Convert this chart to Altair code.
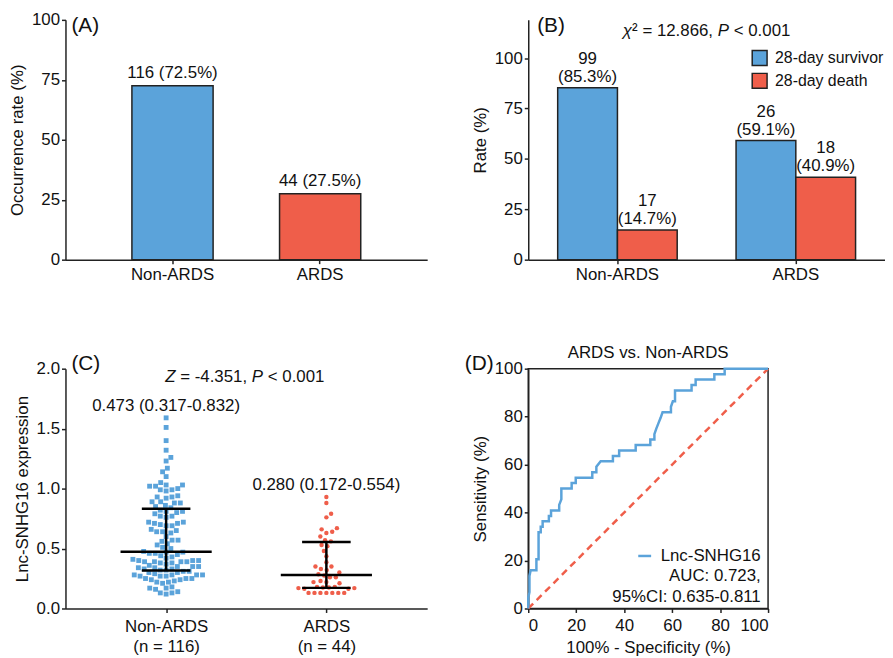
import json
import altair as alt
import numpy as np
import pandas as pd

# ---------------- data ----------------
groups = ["Non-ARDS", "ARDS"]

# (A) occurrence
occ_counts = [116, 44]
occ_rates = [72.5, 27.5]

# (B) 28-day outcome
outcomes = ["28-day survivor", "28-day death"]
surv_counts = [99, 26]
surv_rates = [85.3, 59.1]
death_counts = [17, 18]
death_rates = [14.7, 40.9]
chi_sq = 12.866
chi_p = "< 0.001"

# (C) expression
nonards_expr = [
    0.12, 0.13, 0.13, 0.14, 0.16, 0.17, 0.17, 0.18, 0.21, 0.22, 0.22, 0.23,
    0.24, 0.24, 0.25, 0.25, 0.25, 0.27, 0.27, 0.27, 0.28, 0.28, 0.28, 0.28,
    0.29, 0.30, 0.30, 0.31, 0.31,
    0.32, 0.32, 0.33, 0.33, 0.34, 0.34, 0.35, 0.35, 0.35, 0.36, 0.37, 0.38,
    0.38, 0.39, 0.39, 0.39, 0.39, 0.40, 0.40, 0.40, 0.41, 0.42, 0.43, 0.44,
    0.45, 0.46, 0.46, 0.47, 0.47,
    0.476, 0.50, 0.51, 0.53, 0.54, 0.56, 0.57, 0.57, 0.60, 0.63, 0.64, 0.64,
    0.65, 0.66, 0.69, 0.69, 0.70, 0.71, 0.71, 0.72, 0.72, 0.76, 0.77, 0.77,
    0.79, 0.80, 0.81, 0.81, 0.82,
    0.84, 0.85, 0.86, 0.88, 0.88, 0.89, 0.89, 0.92, 0.93, 0.93, 0.94, 0.98,
    0.99, 0.99, 1.00, 1.02, 1.02, 1.03, 1.03, 1.05, 1.10, 1.14, 1.17, 1.23,
    1.26, 1.32, 1.40, 1.51, 1.59,
]
ards_expr = [
    0.13, 0.13, 0.13, 0.13, 0.13, 0.13, 0.13, 0.165, 0.165, 0.17, 0.17,
    0.175, 0.175, 0.18, 0.18, 0.21, 0.22, 0.22, 0.23, 0.26, 0.26, 0.275,
    0.285, 0.30, 0.32, 0.33, 0.35, 0.35, 0.385, 0.435, 0.48, 0.52, 0.53,
    0.56, 0.57, 0.60, 0.63, 0.64, 0.66, 0.67, 0.76, 0.79, 0.88, 0.93,
]
medians = [0.473, 0.280]
q1s = [0.317, 0.172]
q3s = [0.832, 0.554]
n_labels = ["(n = 116)", "(n = 44)"]
z_value = -4.351
z_p = "< 0.001"

# (D) ROC curve (100% - specificity, sensitivity)
roc_title = "ARDS vs. Non-ARDS"
roc_fpr = [0, 0, 0.5, 0.5, 1.0, 3.4, 3.4, 4.3, 4.3, 5.2, 5.2, 6.0, 6.0, 8.6,
           8.6, 9.5, 9.5, 12.9, 12.9, 13.8, 13.8, 18.1, 18.1, 19.8, 19.8,
           26.7, 26.7, 28.4, 28.4, 30.2, 35.3, 35.3, 37.9, 37.9, 44.8, 44.8,
           50.9, 50.9, 52.6, 52.6, 53.4, 54.3, 55.2, 56.0, 59.5, 59.5, 60.3,
           61.2, 61.2, 68.1, 68.1, 69.8, 69.8, 77.6, 77.6, 81.9, 81.9, 100]
roc_sens = [0, 4.5, 6.8, 13.6, 15.9, 15.9, 20.5, 20.5, 31.8, 31.8, 34.1,
            34.1, 36.4, 36.4, 38.6, 38.6, 40.9, 40.9, 43.2, 45.5, 50.0, 50.0,
            52.3, 52.3, 54.5, 54.5, 56.8, 56.8, 59.1, 61.4, 61.4, 63.6, 63.6,
            65.9, 65.9, 68.2, 68.2, 70.5, 70.5, 72.7, 75.0, 77.3, 79.5, 81.8,
            81.8, 84.1, 86.4, 86.4, 90.9, 90.9, 93.2, 93.2, 95.5, 95.5, 97.7,
            97.7, 100, 100]
roc_name = "Lnc-SNHG16"
auc = 0.723
auc_ci = (0.635, 0.811)

# ---------------- style ----------------
FONT = "Liberation Sans"
BLUE = "#5BA3DA"
RED = "#EF5E4A"
EDGE = "#222222"
INK = "#111111"
LBL = 17
TICK = 17
TAG = 21

WA = {**{d: 0.556 for d in "0123456789"}, ".": 0.278, ",": 0.278, " ": 0.278,
      "=": 0.584, "<": 0.584, "-": 0.333, "P": 0.667, "Z": 0.611,
      "\u03c7": 0.55, "\u00b2": 0.333}


def text_w(s, size):
    return sum(WA.get(c, 0.556) for c in s) * size


def note(label, x, y, size, align="left"):
    return alt.Chart(pd.DataFrame({"t": [label]})).mark_text(
        align=align, baseline="middle", fontSize=size, font=FONT, color=INK
    ).encode(text="t:N", x=alt.value(x), y=alt.value(y))


def tag(label, x, y):
    return note(label, x, y, TAG)


def rich_text(segs, cx, cy, size):
    widths = [text_w(s, size) for s, _ in segs]
    x = cx - sum(widths) / 2
    layers = []
    for (s, it), w in zip(segs, widths):
        lead = len(s) - len(s.lstrip(" "))
        layers.append(
            alt.Chart(pd.DataFrame({"t": [s.strip(" ")]})).mark_text(
                align="left", baseline="middle", fontSize=size, font=FONT,
                color=INK, fontStyle="italic" if it else "normal"
            ).encode(text="t:N", x=alt.value(x + lead * WA[" "] * size),
                     y=alt.value(cy))
        )
        x += w
    return layers


# ---------------- panel A ----------------
WA_, HA_ = 365, 242
dfA = pd.DataFrame({"group": groups, "n": occ_counts, "rate": occ_rates})
dfA["label"] = [f"{n} ({r}%)" for n, r in zip(occ_counts, occ_rates)]
xA = alt.X("group:N", sort=groups,
           scale=alt.Scale(paddingInner=0.45, paddingOuter=0.45),
           axis=alt.Axis(title=None, labelAngle=0, labelPadding=3))
yA = alt.Y("rate:Q", scale=alt.Scale(domain=[0, 100], nice=False),
           axis=alt.Axis(title="Occurrence rate (%)", values=[0, 25, 50, 75, 100]))
barsA = alt.Chart(dfA).mark_bar(stroke=EDGE, strokeWidth=1.5).encode(
    x=xA, y=yA,
    color=alt.Color("group:N", scale=alt.Scale(domain=groups, range=[BLUE, RED]),
                    legend=None))
textA = alt.Chart(dfA).mark_text(baseline="alphabetic", dy=-8, fontSize=LBL,
                                 font=FONT, color=INK).encode(x=xA, y=yA, text="label:N")
A = alt.layer(barsA, textA, tag("(A)", 6, 6)).properties(width=WA_, height=HA_)

# ---------------- panel B ----------------
WB_ = 360
LH = 18
dfB = pd.DataFrame({
    "group": groups * 2,
    "outcome": [outcomes[0]] * 2 + [outcomes[1]] * 2,
    "n": surv_counts + death_counts,
    "rate": surv_rates + death_rates,
})
dfB["label"] = [f"{n}\n({r}%)" for n, r in zip(dfB["n"], dfB["rate"])]
xB = alt.X("group:N", sort=groups,
           scale=alt.Scale(paddingInner=0.33, paddingOuter=0.165),
           axis=alt.Axis(title=None, labelAngle=0, labelPadding=3))
xoB = alt.XOffset("outcome:N", sort=outcomes,
                  scale=alt.Scale(paddingInner=0, paddingOuter=0))
yB = alt.Y("rate:Q", scale=alt.Scale(domain=[0, 119], nice=False),
           axis=alt.Axis(title="Rate (%)", values=[0, 25, 50, 75, 100]))
barsB = alt.Chart(dfB).mark_bar(stroke=EDGE, strokeWidth=1.5).encode(
    x=xB, xOffset=xoB, y=yB,
    color=alt.Color("outcome:N", sort=outcomes,
                    scale=alt.Scale(domain=outcomes, range=[BLUE, RED]),
                    legend=alt.Legend(title=None, orient="none", legendX=225,
                                      legendY=30, symbolType="square",
                                      symbolSize=225, symbolStrokeColor=EDGE,
                                      symbolStrokeWidth=1.5, labelFontSize=16,
                                      labelFont=FONT, labelColor=INK,
                                      rowPadding=2, labelOffset=7, padding=0)))
textB = alt.Chart(dfB).mark_text(baseline="bottom", dy=-2 - LH, lineBreak="\n",
                                 lineHeight=LH, fontSize=LBL, font=FONT,
                                 color=INK).encode(x=xB, xOffset=xoB, y=yB,
                                                   text="label:N")
chi_segs = [("\u03c7", True), (f"\u00b2 = {chi_sq:.3f}, ", False), ("P", True),
            (f" {chi_p}", False)]
B = alt.layer(barsB, textB, tag("(B)", 9, 6),
              *rich_text(chi_segs, 180, 11, LBL)).properties(width=WB_, height=HA_)

# ---------------- panel C ----------------
XDOM = [-0.628, 1.629]
px_per_x = WA_ / (XDOM[1] - XDOM[0])
px_per_y = HA_ / 2.0


def beeswarm(vals, d=6.0):
    vals = np.asarray(vals, dtype=float)
    order = np.argsort(vals, kind="stable")
    placed = []
    offs = np.zeros(len(vals))
    flip = 1
    for i in order:
        y = vals[i] * px_per_y
        forb = []
        for yy, xx in placed:
            dy = abs(y - yy)
            if dy < d:
                h = np.sqrt(d * d - dy * dy)
                forb.append((xx - h, xx + h))
        cands = [0.0] + [a for a, b in forb] + [b for a, b in forb]
        cands.sort(key=lambda c: (round(abs(c), 6), flip * c))
        x = 0.0
        for c in cands:
            if all(not (a + 1e-6 < c < b - 1e-6) for a, b in forb):
                x = c
                break
        flip = -flip
        placed.append((y, x))
        offs[i] = x
    return offs


pts = []
for gi, vals in enumerate([nonards_expr, ards_expr]):
    offs = beeswarm(vals)
    for v, o in zip(vals, offs):
        pts.append({"gi": gi, "value": v, "xpos": gi + o / px_per_x})
dfC = pd.DataFrame(pts)
dfS = pd.DataFrame({"gi": [0, 1], "median": medians, "q1": q1s, "q3": q3s,
                    "top": [max(nonards_expr), max(ards_expr)]})
dfS["label"] = [f"{m:.3f} ({a:.3f}-{b:.3f})" for m, a, b in zip(medians, q1s, q3s)]
dfS["ly"] = dfS["top"] + 0.097

lab_arrays = [[g, n] for g, n in zip(groups, n_labels)]
labexpr = f"datum.value == 0 ? {json.dumps(lab_arrays[0])} : {json.dumps(lab_arrays[1])}"
xC_scale = alt.Scale(domain=XDOM, nice=False, zero=False)
xC_axis = alt.Axis(title=None, values=[0, 1], labelExpr=labexpr, labelLineHeight=20,
                   labelPadding=6)
yC_scale = alt.Scale(domain=[0, 2], nice=False)
yC_axis = alt.Axis(title="Lnc-SNHG16 expression", values=[0, 0.5, 1, 1.5, 2],
                   format=".1f")

ptsA = alt.Chart(dfC[dfC.gi == 0]).mark_point(shape="square", filled=True, size=24,
                                              color=BLUE, opacity=1).encode(
    x=alt.X("xpos:Q", scale=xC_scale, axis=xC_axis),
    y=alt.Y("value:Q", scale=yC_scale, axis=yC_axis))
ptsB = alt.Chart(dfC[dfC.gi == 1]).mark_circle(size=20, color=RED, opacity=1).encode(
    x="xpos:Q", y="value:Q")
med = alt.Chart(dfS).mark_tick(orient="horizontal", size=92, thickness=2.5,
                               color="black", opacity=1).encode(x="gi:Q", y="median:Q")
qa = alt.Chart(dfS).mark_tick(orient="horizontal", size=49, thickness=2.5,
                              color="black", opacity=1).encode(x="gi:Q", y="q1:Q")
qb = alt.Chart(dfS).mark_tick(orient="horizontal", size=49, thickness=2.5,
                              color="black", opacity=1).encode(x="gi:Q", y="q3:Q")
vr = alt.Chart(dfS).mark_rule(strokeWidth=2.5, color="black").encode(
    x="gi:Q", y="q1:Q", y2="q3:Q")
annC = alt.Chart(dfS).mark_text(baseline="middle", fontSize=LBL, font=FONT,
                                color=INK).encode(x="gi:Q", y="ly:Q", text="label:N")
z_segs = [("Z", True), (f" = {z_value:.3f}, ", False), ("P", True), (f" {z_p}", False)]
C = alt.layer(ptsA, ptsB, med, qa, qb, vr, annC, tag("(C)", 6, -5),
              *rich_text(z_segs, 181, 8, LBL)).properties(width=WA_, height=HA_)

# ---------------- panel D ----------------
WD_ = 242
dfR = pd.DataFrame({"fpr": roc_fpr, "sens": roc_sens, "idx": range(len(roc_fpr))})
dfDiag = pd.DataFrame({"fpr": [0, 100], "sens": [0, 100]})
xD = alt.X("fpr:Q", scale=alt.Scale(domain=[0, 100], nice=False),
           axis=alt.Axis(title="100% - Specificity (%)", values=[0, 20, 40, 60, 80, 100],
                         labelPadding=5, titlePadding=6))
yD = alt.Y("sens:Q", scale=alt.Scale(domain=[0, 100], nice=False),
           axis=alt.Axis(title="Sensitivity (%)", values=[0, 20, 40, 60, 80, 100]))
diag = alt.Chart(dfDiag).mark_line(color=RED, strokeWidth=2.5, strokeDash=[7, 5]).encode(
    x=xD, y=yD)
roc = alt.Chart(dfR).mark_line(color=BLUE, strokeWidth=2.5, interpolate="linear").encode(
    x="fpr:Q", y="sens:Q", order="idx:Q")
leg_lines = [roc_name, f"AUC: {auc:.3f},", f"95%CI: {auc_ci[0]:.3f}-{auc_ci[1]:.3f}"]
legText = [note(s, 234.6, 189 + i * 20.5, LBL, align="right")
           for i, s in enumerate(leg_lines)]
legSym = alt.Chart(pd.DataFrame({"a": [0]})).mark_rule(color=BLUE, strokeWidth=2.5).encode(
    x=alt.value(111), x2=alt.value(124), y=alt.value(189))
D = alt.layer(diag, roc, legSym, *legText, tag("(D)", -64, -5),
              note(roc_title, WD_ / 2, -16, LBL, align="center")).properties(
    width=WD_, height=HA_,
    view=alt.ViewBackground(stroke=EDGE, strokeWidth=1.5))

chart = alt.concat(A, B, C, D, columns=2,
                   spacing=alt.RowColnumber(row=110, column=102),
                   bounds="flush").resolve_scale(color="independent").resolve_legend(
    color="independent").properties(
    padding={"left": 0, "top": 0, "right": 0, "bottom": 0}
).configure(font=FONT).configure_view(stroke=None).configure_axis(
    domainColor=EDGE, tickColor=EDGE, labelColor=INK, titleColor=INK,
    labelFont=FONT, titleFont=FONT, labelFontSize=TICK, titleFontSize=LBL,
    titleFontWeight="normal", grid=False, tickSize=4, domainWidth=1.5,
    tickWidth=1.5, labelPadding=2, titlePadding=5)

chart.save("out.html", embed_options={"renderer": "svg", "actions": False})
